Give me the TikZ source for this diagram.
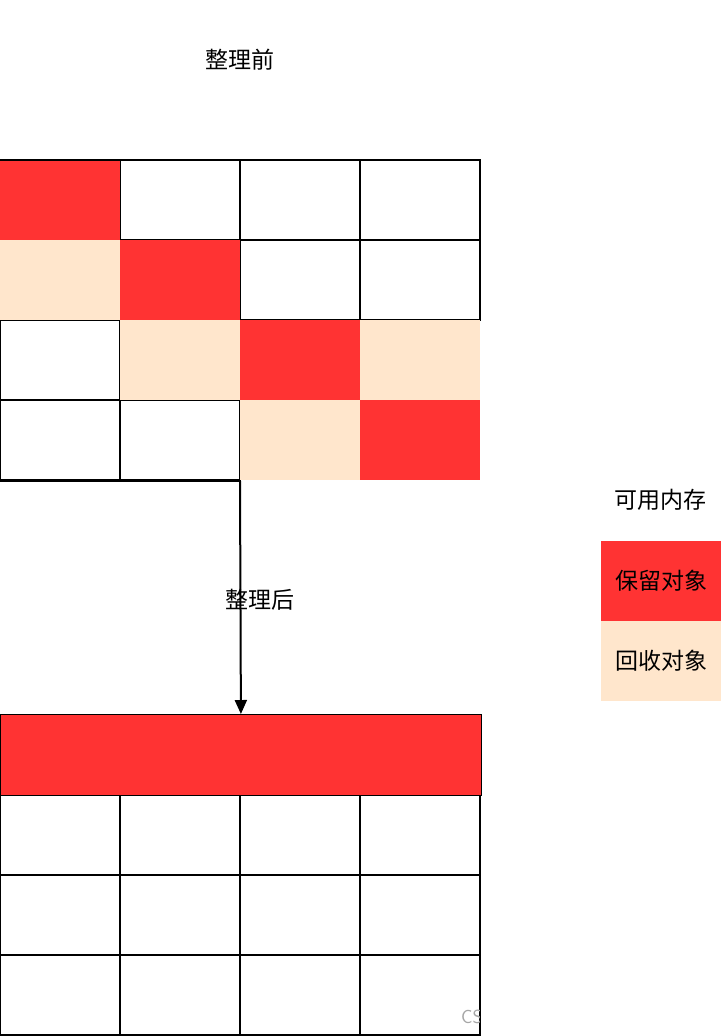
\documentclass[tikz,border=0pt]{standalone}
\usepackage{fontspec}
\newfontfamily\cjk{Noto Sans CJK SC}
\usetikzlibrary{arrows.meta}
\definecolor{keep}{HTML}{FF3333}
\definecolor{recl}{HTML}{FFE6CC}
\tikzset{
  cellw/.style={draw=black, line width=2pt, fill=white},
  cellr/.style={fill=keep},
  cellp/.style={fill=recl},
  lbl/.style={font=\cjk\fontsize{23}{26}\selectfont, text=black, inner sep=0pt},
}
\begin{document}
\begin{tikzpicture}[x=1pt,y=-1pt]
\useasboundingbox (0,0) rectangle (724,1036);
% top grid
\def\cellA#1#2#3{%
  \pgfmathsetmacro\xa{#1*120}\pgfmathsetmacro\ya{160+#2*80}%
  \path[#3] (\xa,\ya) rectangle ++(120,80);}
\foreach \c/\r in {1/0,2/0,3/0,2/1,3/1,0/2,0/3,1/3}{\cellA{\c}{\r}{cellw}}
\foreach \c/\r in {0/0,1/1,2/2,3/3}{\cellA{\c}{\r}{cellr}}
\foreach \c/\r in {0/1,1/2,3/2,2/3}{\cellA{\c}{\r}{cellp}}
\draw[line width=2pt] (0,160) -- (120,160);
\draw[line width=2pt] (0,481) -- (240,481);
\coordinate (topgrid) at (240,481);
% bottom grid
\foreach \c in {0,1,2,3}{\foreach \r in {0,1,2}{
  \path[cellw] (\c*120,795+\r*80) rectangle ++(120,80);}}
\node[draw=black, line width=0.8pt, fill=keep, minimum width=481pt, minimum height=81pt, inner sep=0pt, anchor=north west] (keepbar) at (0,714) {};
\draw[line width=2pt, -{Triangle[length=14pt,width=12pt]}] (topgrid) -- (keepbar.north);
% watermark (clipped at grid edge)
\begin{scope}
\clip (440,990) rectangle (479,1034);
\node[font=\sffamily\fontsize{19}{21}\selectfont, text=black!35, anchor=west, inner sep=0pt] (wm) at (461,1017) {CS};
\end{scope}
% labels
\node[lbl] (before) at (240,60) {整理前};
\node[lbl] (after) at (260,600) {整理后};
% legend
\node[lbl] (avail) at (660,500) {可用内存};
\node[fill=keep, minimum width=120pt, minimum height=80pt, inner sep=0pt] (lkeep) at (661,581) {};
\node[lbl] at (lkeep) {保留对象};
\node[fill=recl, minimum width=120pt, minimum height=80pt, inner sep=0pt] (lrecl) at (661,661) {};
\node[lbl] at (lrecl) {回收对象};
\end{tikzpicture}
\end{document}
